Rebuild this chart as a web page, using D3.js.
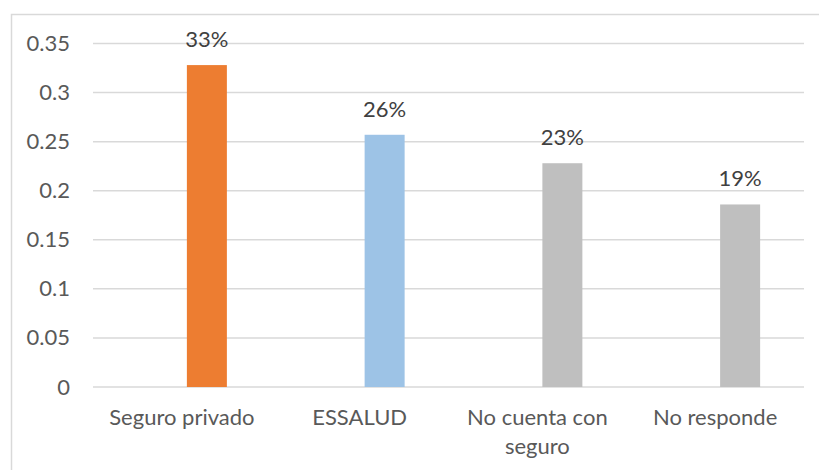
<!DOCTYPE html>
<html>
<head>
<meta charset="utf-8">
<script src="https://cdn.jsdelivr.net/npm/d3@7"></script>
<style>
  body { margin: 0; background: #fff; }
  text { font-family: Lato, "Open Sans", sans-serif; }
</style>
</head>
<body>
<div id="chart"></div>
<script>
// data
var categories = ["Seguro privado", "ESSALUD", "No cuenta con seguro", "No responde"];
var values = [0.328, 0.257, 0.228, 0.186];
var barColors = ["#ED7D31", "#9DC3E6", "#BFBFBF", "#BFBFBF"];
var yTicks = [0, 0.05, 0.1, 0.15, 0.2, 0.25, 0.3, 0.35];

var width = 819, height = 470;
var fontSize = 22;

var svg = d3.select("#chart")
  .append("svg")
  .attr("width", width)
  .attr("height", height);

// chart area border
svg.append("rect")
  .attr("x", 11.5)
  .attr("y", 14.5)
  .attr("width", 830)
  .attr("height", 480)
  .attr("fill", "none")
  .attr("stroke", "#d9d9d9")
  .attr("stroke-width", 1.5);

var x = d3.scaleBand()
  .domain(categories)
  .range([93, 804]);

var y = d3.scaleLinear()
  .domain([0, 0.35])
  .range([387, 43.5]);

// bars sit right of the category centre (hidden first series in the original)
var barWidth = 40, barShift = 5;

// gridlines
svg.append("g")
  .selectAll("line")
  .data(yTicks)
  .enter()
  .append("line")
  .attr("x1", 93)
  .attr("x2", 804)
  .attr("y1", function (d) { return y(d); })
  .attr("y2", function (d) { return y(d); })
  .attr("stroke", "#d9d9d9")
  .attr("stroke-width", 1.5);

// y axis labels
var yAxis = svg.append("g")
  .attr("transform", "translate(70,0)")
  .call(d3.axisLeft(y).tickValues(yTicks).tickSize(0).tickPadding(0)
    .tickFormat(function (d) { return d3.format("")(+d.toFixed(2)); }));
yAxis.select(".domain").remove();
yAxis.selectAll("text")
  .attr("font-size", fontSize)
  .attr("fill", "#595959")
  .attr("font-family", "Lato, sans-serif");

// bars
svg.append("g")
  .selectAll("rect")
  .data(values)
  .enter()
  .append("rect")
  .attr("x", function (d, i) { return x(categories[i]) + x.bandwidth() / 2 + barShift; })
  .attr("y", function (d) { return y(d); })
  .attr("width", barWidth)
  .attr("height", function (d) { return y(0) - y(d); })
  .attr("fill", function (d, i) { return barColors[i]; });

// data labels
svg.append("g")
  .selectAll("text")
  .data(values)
  .enter()
  .append("text")
  .attr("x", function (d, i) { return x(categories[i]) + x.bandwidth() / 2 + barShift + barWidth / 2; })
  .attr("y", function (d) { return y(d) - 18; })
  .attr("text-anchor", "middle")
  .attr("font-size", fontSize)
  .attr("fill", "#404040")
  .text(function (d) { return Math.round(d * 100) + "%"; });

// x axis labels
var xAxis = svg.append("g")
  .attr("transform", "translate(0,387)")
  .call(d3.axisBottom(x).tickSize(0).tickPadding(0));
xAxis.select(".domain").remove();
xAxis.selectAll("text")
  .attr("font-size", fontSize)
  .attr("fill", "#595959")
  .attr("font-family", "Lato, sans-serif")
  .attr("y", 38)
  .attr("dy", 0)
  .call(wrap, x.bandwidth() - 10);

function wrap(text, w) {
  text.each(function () {
    var t = d3.select(this),
      words = t.text().split(/\s+/).reverse(),
      word, line = [], lineNo = 0,
      yy = t.attr("y");
    var tspan = t.text(null).append("tspan").attr("x", 0).attr("y", yy);
    while (word = words.pop()) {
      line.push(word);
      tspan.text(line.join(" "));
      if (tspan.node().getComputedTextLength() > w && line.length > 1) {
        line.pop();
        tspan.text(line.join(" "));
        line = [word];
        lineNo++;
        tspan = t.append("tspan").attr("x", 0).attr("y", +yy + lineNo * 28.5).text(word);
      }
    }
  });
}
</script>
</body>
</html>
